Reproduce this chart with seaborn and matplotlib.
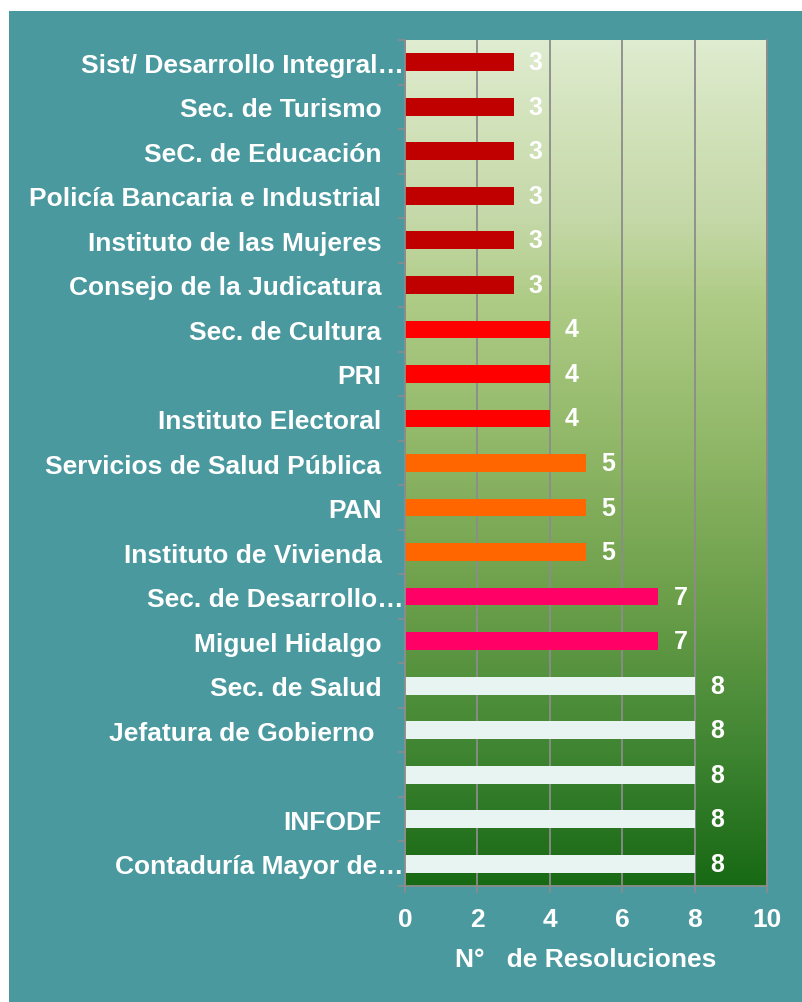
import matplotlib
matplotlib.use("Agg")
import matplotlib.pyplot as plt
import matplotlib.transforms as mtransforms
from matplotlib.colors import LinearSegmentedColormap
from matplotlib.patches import Rectangle
import numpy as np
import seaborn as sns

# datos
dependencias = [
    "Sist/ Desarrollo Integral…",
    "Sec. de Turismo",
    "SeC. de Educación",
    "Policía Bancaria e Industrial",
    "Instituto de las Mujeres",
    "Consejo de la Judicatura",
    "Sec. de Cultura",
    "PRI",
    "Instituto Electoral",
    "Servicios de Salud Pública",
    "PAN",
    "Instituto de Vivienda",
    "Sec. de Desarrollo…",
    "Miguel Hidalgo",
    "Sec. de Salud",
    "Jefatura de Gobierno ",
    " ",
    "INFODF",
    "Contaduría Mayor de…",
]
resoluciones = [3, 3, 3, 3, 3, 3, 4, 4, 4, 5, 5, 5, 7, 7, 8, 8, 8, 8, 8]
colores_por_valor = {3: "#C00000", 4: "#FF0000", 5: "#FF6600", 7: "#FF0066", 8: "#E8F4F2"}

sns.set_theme(style="white")
plt.rcParams['font.family'] = ['Liberation Sans', 'DejaVu Sans']

teal = "#4A999F"
gris = "#8C8C8C"

fig = plt.figure(figsize=(8.03, 10.03), dpi=100)
fig.patch.set_facecolor("white")
fig.patches.append(Rectangle((9 / 803, 0), 1, 1 - 12 / 1003, transform=fig.transFigure,
                             facecolor=teal, edgecolor="none", zorder=-10))

ax = fig.add_axes([405 / 803, 1 - 887 / 1003, 362 / 803, 846 / 1003])

# fondo degradado
grad_cmap = LinearSegmentedColormap.from_list("verde", [
    (0.0, "#DFECD0"), (0.09, "#D3E3BC"), (0.21, "#C5D8A8"), (0.31, "#AECB85"),
    (0.48, "#90B767"), (0.66, "#6C9F4A"), (0.84, "#3F8532"), (0.97, "#1F6E1A"),
    (1.0, "#176A14")])
grad = np.linspace(0, 1, 256).reshape(-1, 1)
ax.imshow(grad, cmap=grad_cmap, aspect="auto", extent=[0, 1, 0, 1],
          transform=ax.transAxes, origin="upper", zorder=0)

paleta = {d: colores_por_valor[v] for d, v in zip(dependencias, resoluciones)}
sns.barplot(x=resoluciones, y=dependencias, hue=dependencias, palette=paleta,
            orient="h", width=0.4, legend=False, ax=ax, saturation=1, zorder=2,
            linewidth=0, edgecolor="none")

for cont in ax.containers:
    ax.bar_label(cont, labels=[f"{int(b.get_width())}" for b in cont], padding=11,
                 color="white", fontsize=18, fontweight="bold")

ax.set_xlim(0, 10)
ax.set_ylim(len(dependencias) - 0.5, -0.5)
ax.set_xticks(np.arange(0, 11, 2))
ax.set_xticklabels([str(t) for t in range(0, 11, 2)], color="white", fontsize=19, fontweight="bold")
ax.set_yticks(range(len(dependencias)))
ax.set_yticklabels(dependencias, color="white", fontsize=19, fontweight="bold")
ax.set_yticks(np.arange(-0.5, len(dependencias), 1), minor=True)
ax.tick_params(axis="y", which="major", length=0, pad=17)
ax.tick_params(axis="y", which="minor", length=5, color=gris, width=1.2, direction="out", left=True)
ax.tick_params(axis="x", which="major", length=5, color=gris, width=1.2, direction="out", pad=10, bottom=True)

# etiquetas recortadas llegan hasta el eje
for lab in ax.get_yticklabels():
    if lab.get_text().endswith("…"):
        lab.set_transform(lab.get_transform() + mtransforms.ScaledTranslation(22 / 100, 0, fig.dpi_scale_trans))

ax.grid(True, axis="x", color=gris, linewidth=1.3)
ax.set_axisbelow(True)
for s in ["left", "bottom", "right"]:
    ax.spines[s].set_color(gris)
    ax.spines[s].set_linewidth(1.3)
ax.spines["top"].set_visible(False)

ax.set_ylabel("")
ax.set_xlabel("N°   de Resoluciones", color="white", fontsize=19, fontweight="bold", labelpad=12)

fig.savefig("out.png", dpi=100, facecolor=fig.get_facecolor())
